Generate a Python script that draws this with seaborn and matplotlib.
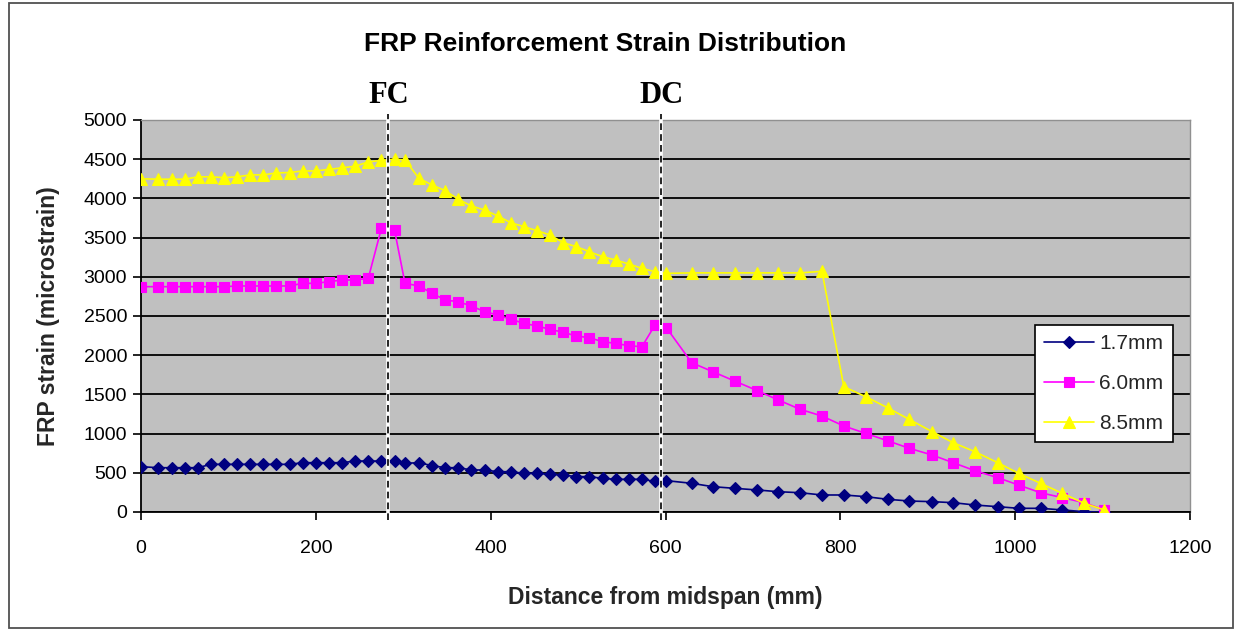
import numpy as np
import pandas as pd
import matplotlib
matplotlib.use("Agg")
import matplotlib.pyplot as plt
from matplotlib.patches import Rectangle
import seaborn as sns

# Gauge positions along the beam (mm from midspan)
distance = [0, 20, 35, 50, 65, 80, 95, 110, 125, 140, 155, 170, 185, 200, 215,
            230, 245, 260, 275, 290, 302, 318, 333, 348, 363, 378, 393, 408, 423,
            438, 453, 468, 483, 498, 513, 528, 543, 558, 573, 588, 601, 630, 654,
            679, 705, 729, 754, 779, 804, 829, 854, 879, 905, 929, 954, 980, 1004,
            1029, 1054, 1079, 1102]

# FRP strain (microstrain) for each deflection level
strain_17 = [578, 565, 565, 565, 565, 608, 608, 608, 608, 608, 608, 608, 629, 629,
             629, 629, 650, 650, 650, 650, 621, 629, 591, 565, 565, 536, 536, 514,
             514, 493, 493, 480, 472, 451, 451, 429, 417, 417, 417, 390, 400, 366,
             323, 302, 281, 259, 246, 217, 217, 196, 162, 140, 132, 119, 89, 68, 47,
             47, 26, 4, 0]
strain_60 = [2874, 2874, 2874, 2874, 2874, 2874, 2874, 2883, 2883, 2883, 2883,
             2883, 2917, 2917, 2938, 2959, 2959, 2981, 3619, 3597, 2917, 2883,
             2789, 2704, 2682, 2628, 2555, 2513, 2458, 2407, 2372, 2330, 2292,
             2245, 2223, 2172, 2151, 2121, 2108, 2385, 2351, 1904, 1790, 1671,
             1548, 1429, 1310, 1224, 1097, 1003, 909, 812, 727, 629, 527, 438,
             344, 246, 183, 119, 26]
strain_85 = [4250, 4245, 4245, 4245, 4275, 4275, 4265, 4275, 4300, 4300, 4325,
             4330, 4350, 4350, 4370, 4390, 4410, 4465, 4485, 4500, 4490, 4256,
             4171, 4098, 3989, 3903, 3852, 3776, 3690, 3639, 3588, 3533, 3435,
             3384, 3320, 3256, 3214, 3163, 3108, 3065, 3044, 3050, 3050, 3050,
             3050, 3050, 3050, 3070, 1598, 1471, 1330, 1180, 1025, 884, 769, 629,
             493, 366, 238, 111, 26]

series_labels = ["1.7mm", "6.0mm", "8.5mm"]
series_values = [strain_17, strain_60, strain_85]
series_colors = ["#000080", "#FF00FF", "#FFFF00"]
series_markers = ["D", "s", "^"]
series_msize = [6.5, 7.2, 8.5]

# Crack locations: flexural crack (FC) and diagonal crack (DC)
crack_labels = ["FC", "DC"]
crack_positions = [283, 595]

x_ticks = [0, 200, 400, 600, 800, 1000, 1200]
y_ticks = list(range(0, 5001, 500))

sns.set_theme(style="white")
plt.rcParams["font.family"] = ["Liberation Sans", "DejaVu Sans"]

fig = plt.figure(figsize=(12.36, 6.30), dpi=100)
ax = fig.add_axes([141 / 1236, 1 - 512 / 630, (1190 - 141) / 1236, (512 - 120) / 630])
ax.set_facecolor("#C0C0C0")

for lab, vals, col, mk, ms in zip(series_labels, series_values, series_colors,
                                  series_markers, series_msize):
    df = pd.DataFrame({"distance": distance, "strain": vals})
    sns.lineplot(data=df, x="distance", y="strain", ax=ax, color=col,
                 marker=mk, markersize=ms, markeredgecolor=col,
                 markeredgewidth=0.8, linewidth=1.2, label=lab,
                 estimator=None, sort=False, zorder=3)

ax.set_xlim(0, 1200)
ax.set_ylim(0, 5000)
ax.set_xticks(x_ticks)
ax.set_yticks(y_ticks)
ax.yaxis.grid(True, color="black", linewidth=1.3)
ax.xaxis.grid(False)
ax.set_axisbelow(True)

for side in ["top", "right"]:
    ax.spines[side].set_color("#909090")
    ax.spines[side].set_linewidth(1.0)
for side in ["left", "bottom"]:
    ax.spines[side].set_color("black")
    ax.spines[side].set_linewidth(1.3)

ax.tick_params(axis="both", which="major", direction="out", length=6, width=1.2,
               color="black", labelsize=14, labelcolor="black",
               left=True, bottom=True)
ax.tick_params(axis="x", pad=14)
ax.tick_params(axis="y", pad=4)

ax.set_xlabel("Distance from midspan (mm)", fontsize=16.5, fontweight="bold",
              labelpad=21)
ax.set_ylabel("FRP strain (microstrain)", fontsize=16.5, fontweight="bold",
              labelpad=17)

# Crack marker lines with labels above the plot area
for lab, xc in zip(crack_labels, crack_positions):
    ax.plot([xc, xc], [-100, 5080], color="white", linewidth=2.6,
            clip_on=False, zorder=4)
    ax.plot([xc, xc], [-100, 5080], color="black", linewidth=1.2,
            linestyle=(0, (4, 2.5)), clip_on=False, zorder=5)
    ax.text(xc, 5217, lab, ha="center", va="baseline", fontsize=22,
            fontweight="bold", family="Liberation Serif", color="black")

fig.text(605 / 1236, 1 - 44 / 630, "FRP Reinforcement Strain Distribution",
         ha="center", va="center", fontsize=19, fontweight="bold", color="black")

leg = ax.legend(loc="upper left", bbox_to_anchor=(0.852, 0.477),
                borderaxespad=0, frameon=True, fancybox=False, framealpha=1,
                edgecolor="black", facecolor="white", fontsize=15,
                handlelength=2.4, labelspacing=1.0, borderpad=0.45,
                handletextpad=0.25)
leg.get_frame().set_linewidth(1.2)
leg.set_zorder(6)

# Outer chart frame
fig.patches.append(Rectangle((9 / 1236, 1 - 628 / 630), (1233 - 9) / 1236,
                             (628 - 3) / 630, transform=fig.transFigure,
                             fill=False, edgecolor="#505050", linewidth=1.3))

fig.savefig("out.png", dpi=100, facecolor="white")
